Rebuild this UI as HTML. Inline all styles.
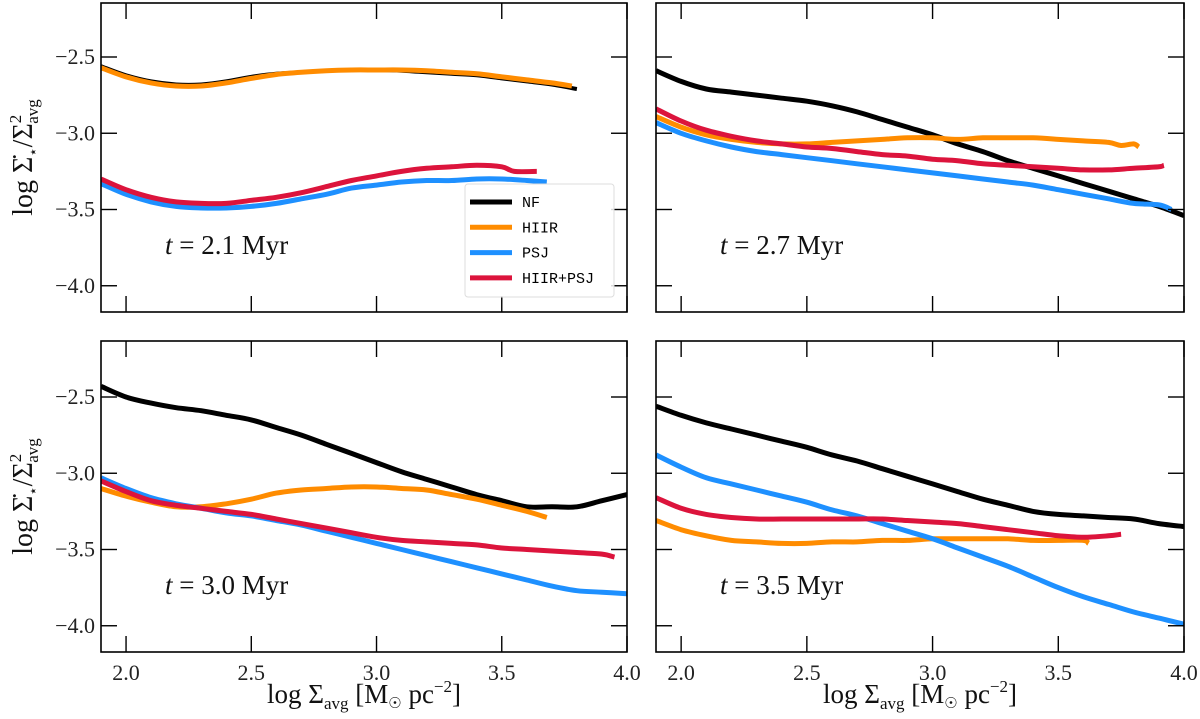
<!DOCTYPE html>
<html><head><meta charset="utf-8">
<style>
body{margin:0;background:#fff;}
svg{display:block;font-family:"Liberation Serif",serif;}
.tl{font-size:22px;fill:#222;}
.leg{font-family:"Liberation Mono",monospace;font-size:15px;fill:#000;}
</style></head><body>
<svg id="chart" width="1200" height="719" viewBox="0 0 1200 719"></svg>
<script>
// Shared data arrays
const xTicks = [2.0, 2.5, 3.0, 3.5, 4.0];
const xTickLabels = ["2.0", "2.5", "3.0", "3.5", "4.0"];
const yTicks = [-2.5, -3.0, -3.5, -4.0];
const yTickLabels = ["\u22122.5", "\u22123.0", "\u22123.5", "\u22124.0"];
const seriesNames = ["NF", "HIIR", "PSJ", "HIIR+PSJ"];
const seriesColors = ["#000000", "#ff8c00", "#1e90ff", "#dc143c"];
const panelTimes = ["2.1", "2.7", "3.0", "3.5"];

// Panel 1 (t=2.1)
const p1NFx = [1.9,2.0,2.1,2.2,2.3,2.4,2.5,2.6,2.7,2.8,2.9,3.0,3.1,3.2,3.3,3.4,3.5,3.6,3.7,3.8];
const p1NFy = [-2.56,-2.62,-2.66,-2.68,-2.68,-2.66,-2.63,-2.61,-2.60,-2.59,-2.585,-2.585,-2.59,-2.60,-2.61,-2.62,-2.64,-2.66,-2.68,-2.71];
const p1HIIRx = [1.9,2.0,2.1,2.2,2.3,2.4,2.5,2.6,2.7,2.8,2.9,3.0,3.1,3.2,3.3,3.4,3.5,3.6,3.7,3.78];
const p1HIIRy = [-2.57,-2.63,-2.67,-2.69,-2.69,-2.67,-2.64,-2.615,-2.60,-2.59,-2.585,-2.585,-2.585,-2.59,-2.60,-2.61,-2.63,-2.65,-2.67,-2.69];
const p1PSJx = [1.9,2.0,2.1,2.2,2.3,2.4,2.5,2.6,2.7,2.8,2.9,3.0,3.1,3.2,3.3,3.4,3.5,3.6,3.68];
const p1PSJy = [-3.33,-3.40,-3.45,-3.48,-3.49,-3.49,-3.48,-3.46,-3.43,-3.40,-3.36,-3.34,-3.32,-3.31,-3.31,-3.30,-3.30,-3.31,-3.32];
const p1HPx = [1.9,2.0,2.1,2.2,2.3,2.4,2.5,2.6,2.7,2.8,2.9,3.0,3.1,3.2,3.3,3.4,3.5,3.55,3.64];
const p1HPy = [-3.30,-3.37,-3.42,-3.45,-3.46,-3.46,-3.44,-3.42,-3.39,-3.35,-3.31,-3.28,-3.25,-3.23,-3.22,-3.21,-3.22,-3.25,-3.25];

// Panel 2 (t=2.7)
const p2NFx = [1.9,2.0,2.1,2.2,2.3,2.4,2.5,2.6,2.7,2.8,2.9,3.0,3.1,3.2,3.3,3.4,3.5,3.6,3.7,3.8,3.9,4.0];
const p2NFy = [-2.59,-2.66,-2.71,-2.73,-2.75,-2.77,-2.79,-2.82,-2.86,-2.91,-2.96,-3.01,-3.07,-3.12,-3.18,-3.23,-3.28,-3.33,-3.38,-3.43,-3.48,-3.54];
const p2HIIRx = [1.9,2.0,2.1,2.2,2.3,2.4,2.5,2.6,2.7,2.8,2.9,3.0,3.1,3.2,3.3,3.4,3.5,3.6,3.7,3.75,3.8,3.82];
const p2HIIRy = [-2.89,-2.96,-3.01,-3.04,-3.06,-3.07,-3.07,-3.06,-3.05,-3.04,-3.03,-3.03,-3.04,-3.03,-3.03,-3.03,-3.04,-3.05,-3.06,-3.08,-3.07,-3.09];
const p2PSJx = [1.9,2.0,2.1,2.2,2.3,2.4,2.5,2.6,2.7,2.8,2.9,3.0,3.1,3.2,3.3,3.4,3.5,3.6,3.7,3.8,3.9,3.95];
const p2PSJy = [-2.93,-3.00,-3.05,-3.09,-3.12,-3.14,-3.16,-3.18,-3.20,-3.22,-3.24,-3.26,-3.28,-3.30,-3.32,-3.34,-3.37,-3.40,-3.43,-3.46,-3.47,-3.50];
const p2HPx = [1.9,2.0,2.1,2.2,2.3,2.4,2.5,2.6,2.7,2.8,2.9,3.0,3.1,3.2,3.3,3.4,3.5,3.6,3.7,3.8,3.9,3.92];
const p2HPy = [-2.84,-2.92,-2.98,-3.02,-3.05,-3.07,-3.09,-3.10,-3.12,-3.14,-3.15,-3.17,-3.18,-3.20,-3.21,-3.22,-3.23,-3.24,-3.24,-3.23,-3.22,-3.21];

// Panel 3 (t=3.0)
const p3NFx = [1.9,2.0,2.1,2.2,2.3,2.4,2.5,2.6,2.7,2.8,2.9,3.0,3.1,3.2,3.3,3.4,3.5,3.6,3.7,3.8,3.9,4.0];
const p3NFy = [-2.43,-2.50,-2.54,-2.57,-2.59,-2.62,-2.65,-2.70,-2.75,-2.81,-2.87,-2.93,-2.99,-3.04,-3.09,-3.14,-3.18,-3.22,-3.22,-3.22,-3.18,-3.14];
const p3HIIRx = [1.9,2.0,2.1,2.2,2.3,2.4,2.5,2.6,2.7,2.8,2.9,3.0,3.1,3.2,3.3,3.4,3.5,3.6,3.68];
const p3HIIRy = [-3.10,-3.15,-3.19,-3.22,-3.22,-3.20,-3.17,-3.13,-3.11,-3.10,-3.09,-3.09,-3.10,-3.11,-3.14,-3.17,-3.21,-3.25,-3.29];
const p3PSJx = [1.9,2.0,2.1,2.2,2.3,2.4,2.5,2.6,2.7,2.8,2.9,3.0,3.1,3.2,3.3,3.4,3.5,3.6,3.7,3.8,3.9,4.0];
const p3PSJy = [-3.03,-3.10,-3.16,-3.20,-3.23,-3.26,-3.28,-3.31,-3.34,-3.38,-3.42,-3.46,-3.50,-3.54,-3.58,-3.62,-3.66,-3.70,-3.74,-3.77,-3.78,-3.79];
const p3HPx = [1.9,2.0,2.1,2.2,2.3,2.4,2.5,2.6,2.7,2.8,2.9,3.0,3.1,3.2,3.3,3.4,3.5,3.6,3.7,3.8,3.9,3.95];
const p3HPy = [-3.05,-3.12,-3.18,-3.21,-3.23,-3.25,-3.27,-3.30,-3.33,-3.36,-3.39,-3.42,-3.44,-3.45,-3.46,-3.47,-3.49,-3.50,-3.51,-3.52,-3.53,-3.55];

// Panel 4 (t=3.5)
const p4NFx = [1.9,2.0,2.1,2.2,2.3,2.4,2.5,2.6,2.7,2.8,2.9,3.0,3.1,3.2,3.3,3.4,3.5,3.6,3.7,3.8,3.9,4.0];
const p4NFy = [-2.56,-2.62,-2.67,-2.71,-2.75,-2.79,-2.83,-2.88,-2.92,-2.97,-3.02,-3.07,-3.12,-3.17,-3.21,-3.25,-3.27,-3.28,-3.29,-3.30,-3.33,-3.35];
const p4HIIRx = [1.9,2.0,2.1,2.2,2.3,2.4,2.5,2.6,2.7,2.8,2.9,3.0,3.1,3.2,3.3,3.4,3.5,3.6,3.62];
const p4HIIRy = [-3.31,-3.37,-3.41,-3.44,-3.45,-3.46,-3.46,-3.45,-3.45,-3.44,-3.44,-3.43,-3.43,-3.43,-3.43,-3.44,-3.44,-3.44,-3.46];
const p4PSJx = [1.9,2.0,2.1,2.2,2.3,2.4,2.5,2.6,2.7,2.8,2.9,3.0,3.1,3.2,3.3,3.4,3.5,3.6,3.7,3.8,3.9,4.0];
const p4PSJy = [-2.88,-2.96,-3.03,-3.07,-3.11,-3.15,-3.19,-3.24,-3.28,-3.33,-3.38,-3.43,-3.49,-3.55,-3.61,-3.68,-3.75,-3.81,-3.86,-3.91,-3.95,-3.99];
const p4HPx = [1.9,2.0,2.1,2.2,2.3,2.4,2.5,2.6,2.7,2.8,2.9,3.0,3.1,3.2,3.3,3.4,3.5,3.6,3.7,3.75];
const p4HPy = [-3.16,-3.23,-3.27,-3.29,-3.30,-3.30,-3.30,-3.30,-3.30,-3.30,-3.31,-3.32,-3.33,-3.35,-3.37,-3.39,-3.41,-3.42,-3.41,-3.40];

const panelData = [
  [[p1NFx,p1NFy],[p1HIIRx,p1HIIRy],[p1PSJx,p1PSJy],[p1HPx,p1HPy]],
  [[p2NFx,p2NFy],[p2HIIRx,p2HIIRy],[p2PSJx,p2PSJy],[p2HPx,p2HPy]],
  [[p3NFx,p3NFy],[p3HIIRx,p3HIIRy],[p3PSJx,p3PSJy],[p3HPx,p3HPy]],
  [[p4NFx,p4NFy],[p4HIIRx,p4HIIRy],[p4PSJx,p4PSJy],[p4HPx,p4HPy]]
];

const NS = "http://www.w3.org/2000/svg";
const svg = document.getElementById("chart");
function mk(tag, attrs, parent){
  const e = document.createElementNS(NS, tag);
  for (const k in attrs) e.setAttribute(k, attrs[k]);
  (parent||svg).appendChild(e);
  return e;
}
function smoothPath(pts){
  let d = "M" + pts[0][0].toFixed(1) + "," + pts[0][1].toFixed(1);
  for (let i = 0; i < pts.length - 1; i++) {
    const p0 = pts[Math.max(0, i-1)], p1 = pts[i], p2 = pts[i+1], p3 = pts[Math.min(pts.length-1, i+2)];
    const c1x = p1[0] + (p2[0]-p0[0])/6, c1y = p1[1] + (p2[1]-p0[1])/6;
    const c2x = p2[0] - (p3[0]-p1[0])/6, c2y = p2[1] - (p3[1]-p1[1])/6;
    d += "C" + c1x.toFixed(1) + "," + c1y.toFixed(1) + " " + c2x.toFixed(1) + "," + c2y.toFixed(1) + " " + p2[0].toFixed(1) + "," + p2[1].toFixed(1);
  }
  return d;
}
const panels = [
  {x0:101,x1:627,y0:3,y1:312,tick25:57,yl:true,xl:false},
  {x0:656,x1:1184,y0:3,y1:312,tick25:57,yl:false,xl:false},
  {x0:101,x1:627,y0:341,y1:652,tick25:397,yl:true,xl:true},
  {x0:656,x1:1184,y0:341,y1:652,tick25:397,yl:false,xl:true}
];
const seriesNameKeys = ["nf","hiir","psj","hiir-psj"];
panels.forEach((p, pi) => {
  const g = mk("g", {});
  
  
  const xs = v => p.x0 + (v - 1.9) / 2.1 * (p.x1 - p.x0);
  const ys = v => p.tick25 + (-2.5 - v) * 152.5;
  const clipId = "clip" + pi;
  const cp = mk("clipPath", {id: clipId}, g);
  mk("rect", {x:p.x0, y:p.y0, width:p.x1-p.x0, height:p.y1-p.y0}, cp);
  panelData[pi].forEach((s, si) => {
    const pts = s[0].map((xv, i) => [xs(xv), ys(s[1][i])]);
    const path = mk("path", {d:smoothPath(pts), fill:"none", stroke:seriesColors[si], "stroke-width": (pi===0 && si===0) ? 4 : 5, "stroke-linejoin":"round", "clip-path":"url(#"+clipId+")"}, g);
    
    
  });
  const fr = mk("rect", {x:p.x0, y:p.y0, width:p.x1-p.x0, height:p.y1-p.y0, fill:"none", stroke:"#000", "stroke-width":1.6}, g);
  
  
  const TL = 16;
  xTicks.forEach((t, i) => {
    const x = xs(t);
    mk("line", {x1:x, x2:x, y1:p.y1, y2:p.y1-TL, stroke:"#000", "stroke-width":1.4}, g);
    mk("line", {x1:x, x2:x, y1:p.y0, y2:p.y0+TL, stroke:"#000", "stroke-width":1.4}, g);
    if (p.xl) {
      const tx = mk("text", {x:x, y:p.y1+28, "text-anchor":"middle", class:"tl"}, g);
      tx.textContent = xTickLabels[i];
      
      
    }
  });
  yTicks.forEach((t, i) => {
    const y = ys(t);
    mk("line", {x1:p.x0, x2:p.x0+TL, y1:y, y2:y, stroke:"#000", "stroke-width":1.4}, g);
    mk("line", {x1:p.x1, x2:p.x1-TL, y1:y, y2:y, stroke:"#000", "stroke-width":1.4}, g);
    if (p.yl) {
      const ty = mk("text", {x:p.x0-6, y:y+7, "text-anchor":"end", class:"tl"}, g);
      ty.textContent = yTickLabels[i];
      
      
    }
  });
  const ann = mk("text", {x:p.x0+64, y:p.y1-58, "font-size":"27", fill:"#111"}, g);
  ann.innerHTML = '<tspan font-style="italic">t</tspan> = ' + panelTimes[pi] + ' Myr';
  
  
  if (p.yl) {
    const cy = (p.y0 + p.y1) / 2;
    const yt = mk("text", {x:0, y:0, transform:"translate(32,"+cy+") rotate(-90)", "text-anchor":"middle", "font-size":"28", fill:"#111"}, g);
    yt.innerHTML = 'log Σ\u0307<tspan font-size="15" dy="6">⋆</tspan><tspan dy="-6">/Σ</tspan><tspan font-size="17" dy="-11">2</tspan><tspan font-size="17" dx="-9" dy="17">avg</tspan>';
    
    
  }
  if (p.xl) {
    const xt = mk("text", {x:(p.x0+p.x1)/2, y:703, "text-anchor":"middle", "font-size":"27", fill:"#111"}, g);
    xt.innerHTML = 'log Σ<tspan font-size="17" dy="6">avg</tspan><tspan dy="-6">  [M</tspan><tspan font-size="15" dy="5">☉</tspan><tspan dy="-5"> pc</tspan><tspan font-size="17" dy="-11">−2</tspan><tspan dy="11">]</tspan>';
    
    
  }
});
const lg = mk("g", {});


mk("rect", {x:465, y:184, width:149, height:113, rx:3, fill:"#fff", "fill-opacity":0.85, stroke:"#ddd", "stroke-width":1}, lg);
seriesNames.forEach((n, i) => {
  const y = 202 + i * 25.3;
  const ln = mk("line", {x1:470, x2:512, y1:y, y2:y, stroke:seriesColors[i], "stroke-width":5}, lg);
  
  
  const t = mk("text", {x:522, y:y+5, class:"leg"}, lg);
  t.textContent = n;
  
  
});
</script>
</body></html>
